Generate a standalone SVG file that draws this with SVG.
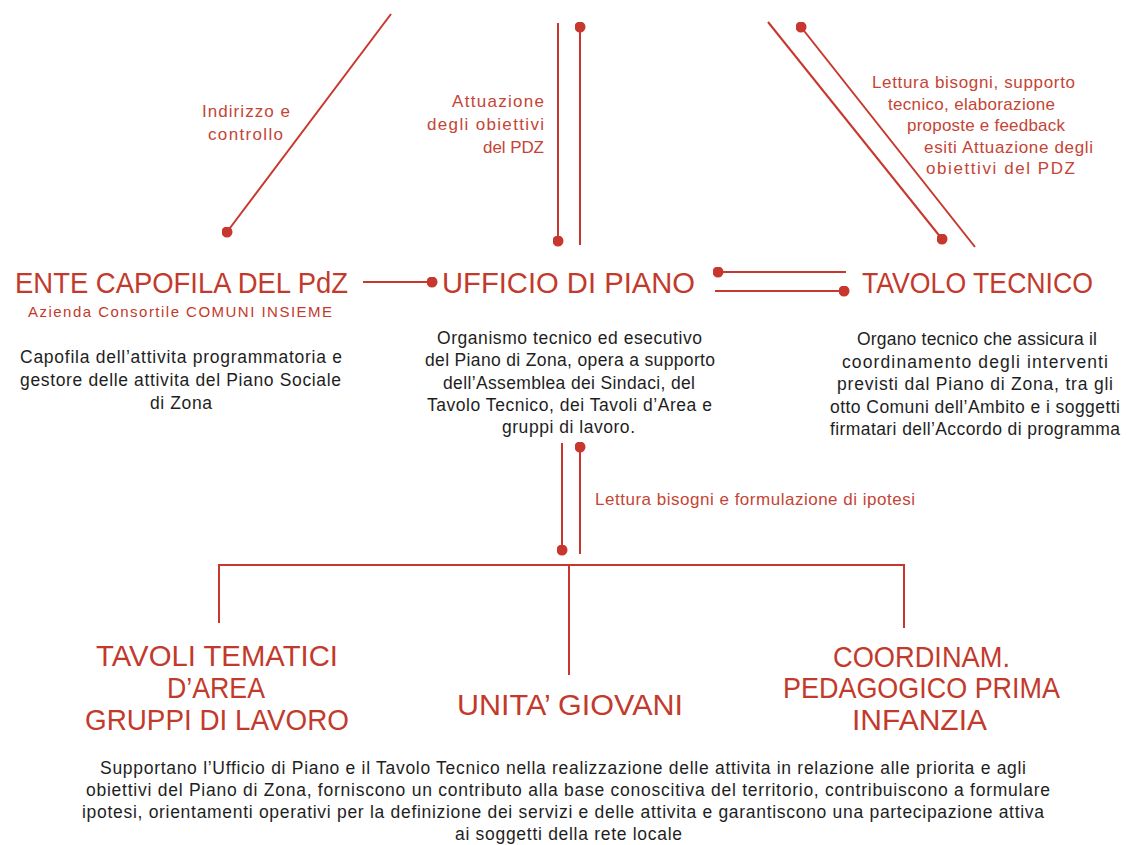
<svg xmlns="http://www.w3.org/2000/svg" width="1133" height="845" viewBox="0 0 1133 845">
<defs>
<style>
.bg{fill:#ffffff}
.ln{stroke:#c8372d;stroke-width:2;fill:none}
.title{font-family:'Liberation Sans Narrow','Liberation Sans',sans-serif;font-size:30px;fill:#c23a2c}
.btitle{font-family:'Liberation Sans Narrow','Liberation Sans',sans-serif;font-size:30px;fill:#c23a2c}
.sub{font-family:'Liberation Sans',sans-serif;font-size:15px;fill:#c23a2c}
.lbl{font-family:'Liberation Sans',sans-serif;font-size:17px;fill:#c44535}
.body{font-family:'Liberation Sans',sans-serif;font-size:17.5px;fill:#1e1e1e}
</style>
<marker id="dot" viewBox="0 0 10 10" refX="5" refY="5" markerWidth="11" markerHeight="11" markerUnits="userSpaceOnUse">
<circle cx="5" cy="5" r="5" fill="#c8372d"/>
</marker>
</defs>
<rect class="bg" x="0" y="0" width="1133" height="845"/>

<g id="connectors">
<line class="ln" x1="391" y1="14" x2="227" y2="232" marker-end="url(#dot)"/>
<line class="ln" x1="558" y1="23" x2="558" y2="241" marker-end="url(#dot)"/>
<line class="ln" x1="580" y1="27" x2="580" y2="245" marker-start="url(#dot)"/>
<line class="ln" x1="768" y1="22" x2="942" y2="239" marker-end="url(#dot)"/>
<line class="ln" x1="801" y1="27" x2="975" y2="247" marker-start="url(#dot)"/>
<line class="ln" x1="363" y1="282" x2="432" y2="282" marker-end="url(#dot)"/>
<line class="ln" x1="718" y1="272" x2="846" y2="272" marker-start="url(#dot)"/>
<line class="ln" x1="715" y1="291" x2="844" y2="291" marker-end="url(#dot)"/>
<line class="ln" x1="562" y1="443" x2="562" y2="550" marker-end="url(#dot)"/>
<line class="ln" x1="580" y1="447" x2="580" y2="554" marker-start="url(#dot)"/>
<polyline class="ln" points="219,623 219,565 904,565 904,628"/>
<line class="ln" x1="569" y1="565" x2="569" y2="675"/>
<g id="labels">
<text class="lbl" x="202" y="117" textLength="88">Indirizzo e</text>
<text class="lbl" x="208" y="140" textLength="75">controllo</text>
<text class="lbl" x="452" y="107" textLength="92">Attuazione</text>
<text class="lbl" x="427" y="130" textLength="117">degli obiettivi</text>
<text class="lbl" x="483" y="153" textLength="61">del PDZ</text>
<text class="lbl" x="872" y="88" textLength="203">Lettura bisogni, supporto</text>
<text class="lbl" x="888" y="110" textLength="167">tecnico, elaborazione</text>
<text class="lbl" x="907" y="131" textLength="158">proposte e feedback</text>
<text class="lbl" x="924" y="153" textLength="169">esiti Attuazione degli</text>
<text class="lbl" x="926" y="174" textLength="149">obiettivi del PDZ</text>
<text class="lbl" x="595" y="505" textLength="320">Lettura bisogni e formulazione di ipotesi</text>
</g>
</g>

<g id="ente-capofila">
<text class="title" x="15" y="293" textLength="333" lengthAdjust="spacingAndGlyphs">ENTE CAPOFILA DEL PdZ</text>
<text class="sub" x="28" y="317" textLength="304">Azienda Consortile COMUNI INSIEME</text>
<text class="body" x="20" y="363" textLength="322">Capofila dell’attivita programmatoria e</text>
<text class="body" x="20" y="386" textLength="321">gestore delle attivita del Piano Sociale</text>
<text class="body" x="150" y="409" textLength="62">di Zona</text>
</g>

<g id="ufficio-di-piano">
<text class="title" x="442" y="293" textLength="253" lengthAdjust="spacingAndGlyphs">UFFICIO DI PIANO</text>
<text class="body" x="437" y="344" textLength="265">Organismo tecnico ed esecutivo</text>
<text class="body" x="425" y="366" textLength="290">del Piano di Zona, opera a supporto</text>
<text class="body" x="443" y="389" textLength="252">dell’Assemblea dei Sindaci, del</text>
<text class="body" x="427" y="411" textLength="285">Tavolo Tecnico, dei Tavoli d’Area e</text>
<text class="body" x="502" y="433" textLength="133">gruppi di lavoro.</text>
</g>

<g id="tavolo-tecnico">
<text class="title" x="862" y="293" textLength="231" lengthAdjust="spacingAndGlyphs">TAVOLO TECNICO</text>
<text class="body" x="857" y="345" textLength="240">Organo tecnico che assicura il</text>
<text class="body" x="842" y="368" textLength="266">coordinamento degli interventi</text>
<text class="body" x="837" y="390" textLength="276">previsti dal Piano di Zona, tra gli</text>
<text class="body" x="830" y="413" textLength="290">otto Comuni dell’Ambito e i soggetti</text>
<text class="body" x="830" y="435" textLength="290">firmatari dell’Accordo di programma</text>
</g>

<g id="tavoli-tematici">
<text class="btitle" x="96" y="666" textLength="242" lengthAdjust="spacingAndGlyphs">TAVOLI TEMATICI</text>
<text class="btitle" x="167" y="698" textLength="98" lengthAdjust="spacingAndGlyphs">D’AREA</text>
<text class="btitle" x="85" y="730" textLength="264" lengthAdjust="spacingAndGlyphs">GRUPPI DI LAVORO</text>
</g>

<g id="unita-giovani">
<text class="btitle" x="457" y="715" textLength="226" lengthAdjust="spacingAndGlyphs">UNITA’ GIOVANI</text>
</g>

<g id="coordinamento-pedagogico">
<text class="btitle" x="833" y="667" textLength="177" lengthAdjust="spacingAndGlyphs">COORDINAM.</text>
<text class="btitle" x="783" y="698" textLength="277" lengthAdjust="spacingAndGlyphs">PEDAGOGICO PRIMA</text>
<text class="btitle" x="852" y="730" textLength="135" lengthAdjust="spacingAndGlyphs">INFANZIA</text>
</g>

<g id="descrizione-gruppi">
<text class="body" x="100" y="774" textLength="926">Supportano l’Ufficio di Piano e  il Tavolo Tecnico nella realizzazione delle attivita in relazione alle priorita e agli</text>
<text class="body" x="86" y="796" textLength="964">obiettivi del Piano di Zona, forniscono un contributo alla base conoscitiva del territorio, contribuiscono a formulare</text>
<text class="body" x="82" y="818" textLength="962">ipotesi, orientamenti operativi per la definizione dei servizi e delle attivita e garantiscono una partecipazione attiva</text>
<text class="body" x="455" y="840" textLength="227">ai soggetti della rete locale</text>
</g>
</svg>
